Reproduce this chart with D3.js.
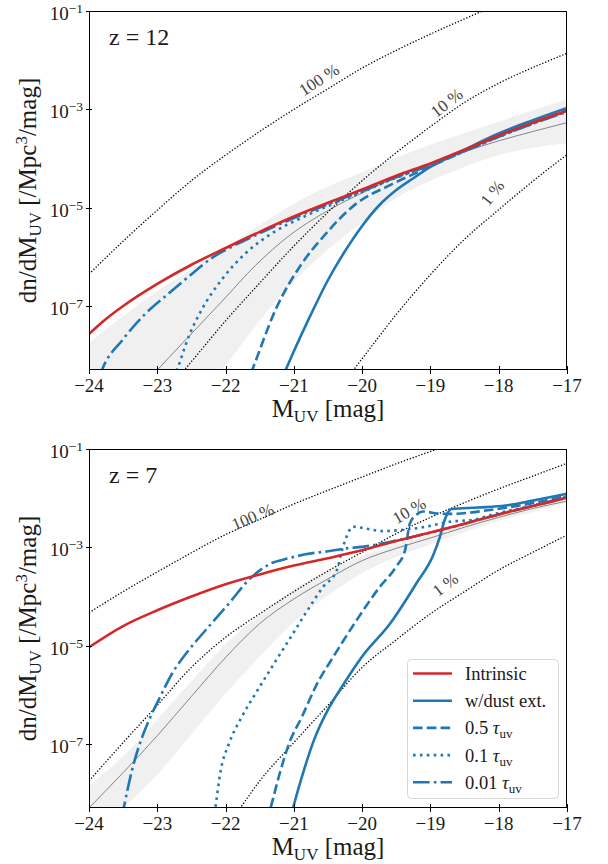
<!DOCTYPE html>
<html>
<head>
<meta charset="utf-8">
<script src="https://cdn.jsdelivr.net/npm/d3@7"></script>
<style>
  body { margin: 0; background: #fff; }
  svg { display: block; }
  text { font-family: "Liberation Serif", "Times New Roman", serif; fill: #1a1a1a; }
</style>
</head>
<body>
<svg id="chart" width="608" height="864"></svg>
<script>
// ---------------------------------------------------------------
// UV luminosity functions, values given as log10(dn/dM_UV) per mag
// ---------------------------------------------------------------
const X_TICKS = [-24, -23, -22, -21, -20, -19, -18, -17];
const Y_TICK_EXPONENTS = [-1, -3, -5, -7];
const Y_DOMAIN_LOG = [-8.3, -1];

// shared magnitude grid for the shaded observational range
const BAND_M = [-24, -23.5, -23, -22.5, -22, -21.5, -21, -20.5, -20, -19.5, -19, -18.5, -18, -17.5, -17];

// ---------- z = 12 ----------
const z12Intrinsic = [[-24,-7.57],[-23.8,-7.32],[-23.5,-7.0],[-23,-6.55],[-22.5,-6.16],[-22,-5.82],[-21.5,-5.49],[-21,-5.18],[-20.5,-4.90],[-20,-4.63],[-19.5,-4.35],[-19,-4.10],[-18.5,-3.82],[-18,-3.53],[-17.5,-3.27],[-17,-3.03]];
const z12Dust = [[-21.2,-8.55],[-21.12,-8.30],[-21,-7.92],[-20.75,-7.17],[-20.5,-6.47],[-20.25,-5.88],[-20,-5.37],[-19.75,-4.95],[-19.5,-4.64],[-19.25,-4.40],[-19,-4.17],[-18.5,-3.82],[-18,-3.49],[-17.5,-3.22],[-17,-2.97]];
const z12Tau05 = [[-21.7,-8.62],[-21.61,-8.30],[-21.27,-7.08],[-20.88,-6.13],[-20.57,-5.59],[-20.08,-4.91],[-19.59,-4.54],[-19.11,-4.23],[-18.52,-3.86],[-18,-3.54],[-17.5,-3.28],[-17,-3.02]];
const z12Tau01 = [[-22.75,-8.45],[-22.71,-8.30],[-22.54,-7.62],[-22.34,-7.05],[-22.05,-6.45],[-21.71,-5.93],[-21.32,-5.52],[-20.88,-5.20],[-20.49,-4.96],[-20,-4.68],[-19.5,-4.39],[-19,-4.13],[-18.5,-3.85],[-18,-3.56],[-17.5,-3.29],[-17,-3.04]];
const z12Tau001 = [[-23.85,-8.45],[-23.81,-8.30],[-23.51,-7.69],[-23.17,-7.15],[-22.83,-6.74],[-22.54,-6.40],[-22.2,-6.02],[-22,-5.86],[-21.5,-5.52],[-21,-5.21],[-20.5,-4.93],[-20,-4.66],[-19.5,-4.38],[-19,-4.13],[-18.5,-3.85],[-18,-3.56],[-17.5,-3.29],[-17,-3.05]];
const z12Observed = [[-23.3,-8.75],[-23,-8.30],[-22.54,-7.62],[-22.05,-6.90],[-21.56,-6.17],[-21.07,-5.57],[-20.49,-5.05],[-20,-4.70],[-19.5,-4.38],[-19,-4.10],[-18.5,-3.86],[-18,-3.64],[-17.5,-3.45],[-17,-3.27]];
const z12BandUpper = [-7.75,-7.2,-6.7,-6.25,-5.82,-5.35,-4.92,-4.57,-4.28,-3.98,-3.72,-3.48,-3.25,-3.02,-2.80];
const z12BandLower = [-10.6,-10.1,-9.6,-9.0,-8.2,-7.3,-6.5,-5.85,-5.3,-4.80,-4.45,-4.17,-3.93,-3.78,-3.69];
const z12Eff100 = [[-24,-6.35],[-23.5,-5.68],[-23,-5.05],[-22.5,-4.45],[-22,-3.93],[-21.5,-3.45],[-21,-3.0],[-20.5,-2.58],[-20,-2.16],[-19.5,-1.80],[-19,-1.47],[-18.5,-1.16],[-18,-0.86]];
const z12Eff10 = [[-23,-8.95],[-22.5,-8.13],[-22,-7.30],[-21.5,-6.53],[-21,-5.78],[-20.5,-5.09],[-20,-4.45],[-19.5,-3.88],[-19,-3.35],[-18.5,-2.86],[-18,-2.47],[-17.5,-2.15],[-17,-1.86]];
const z12Eff1 = [[-20.5,-8.97],[-20,-8.07],[-19.5,-7.17],[-19,-6.36],[-18.5,-5.64],[-18,-5.04],[-17.5,-4.46],[-17,-3.92]];

// ---------- z = 7 ----------
const z7Intrinsic = [[-24,-5.03],[-23.5,-4.60],[-23,-4.28],[-22.5,-4.0],[-22,-3.75],[-21.5,-3.55],[-21,-3.37],[-20.5,-3.22],[-20,-3.06],[-19.5,-2.87],[-19,-2.70],[-18.5,-2.52],[-18,-2.33],[-17.5,-2.16],[-17,-1.99]];
const z7Dust = [[-21.05,-8.5],[-21.01,-8.29],[-20.9,-7.75],[-20.7,-6.9],[-20.5,-6.3],[-20.28,-5.8],[-20,-5.22],[-19.59,-4.55],[-19.2,-3.72],[-18.96,-3.16],[-18.86,-2.78],[-18.79,-2.44],[-18.69,-2.22],[-18.3,-2.19],[-17.9,-2.15],[-17.5,-2.05],[-17,-1.91]];
const z7Tau05 = [[-21.4,-8.55],[-21.34,-8.29],[-21.22,-7.66],[-21.07,-6.99],[-20.88,-6.44],[-20.67,-5.80],[-20.42,-5.22],[-20.08,-4.48],[-19.74,-3.80],[-19.5,-3.39],[-19.37,-3.05],[-19.3,-2.51],[-19.2,-2.33],[-19.11,-2.27],[-18.9,-2.31],[-18.7,-2.32],[-18.13,-2.24],[-17.5,-2.10],[-17,-1.95]];
const z7Tau01 = [[-22.18,-8.55],[-22.15,-8.29],[-22.07,-7.53],[-21.95,-6.99],[-21.76,-6.44],[-21.56,-5.97],[-21.32,-5.43],[-21.07,-4.88],[-20.8,-4.28],[-20.57,-3.80],[-20.37,-3.46],[-20.28,-2.99],[-20.13,-2.58],[-19.94,-2.62],[-19.69,-2.67],[-19.45,-2.65],[-19.2,-2.61],[-18.96,-2.55],[-18.72,-2.48],[-18.37,-2.44],[-18.03,-2.31],[-17.5,-2.15],[-17,-1.97]];
const z7Tau001 = [[-23.52,-8.5],[-23.49,-8.29],[-23.37,-7.53],[-23.27,-7.05],[-23.12,-6.51],[-22.98,-6.10],[-22.78,-5.56],[-22.54,-5.09],[-22.29,-4.68],[-21.95,-4.14],[-21.66,-3.66],[-21.34,-3.33],[-21.07,-3.22],[-20.83,-3.14],[-20.5,-3.08],[-20.23,-3.02],[-20,-2.99],[-19.5,-2.86],[-19,-2.70],[-18.5,-2.52],[-18,-2.33],[-17.5,-2.16],[-17,-1.99]];
const z7Observed = [[-24,-8.30],[-23.5,-7.58],[-23,-6.83],[-22.5,-6.03],[-22,-5.24],[-21.5,-4.55],[-21,-4.05],[-20.5,-3.64],[-20,-3.27],[-19.5,-3.02],[-19,-2.81],[-18.5,-2.59],[-18,-2.39],[-17.5,-2.21],[-17,-2.06]];
const z7BandUpper = [-7.85,-7.25,-6.50,-5.72,-4.97,-4.37,-3.85,-3.48,-3.17,-2.94,-2.74,-2.53,-2.34,-2.18,-2.01];
const z7BandLower = [-8.9,-8.3,-7.62,-6.80,-5.97,-5.22,-4.52,-3.98,-3.52,-3.19,-2.94,-2.69,-2.46,-2.28,-2.10];
const z7Eff100 = [[-24,-4.33],[-23.5,-3.90],[-23,-3.50],[-22.5,-3.11],[-22,-2.74],[-21.5,-2.43],[-21,-2.12],[-20.5,-1.84],[-20,-1.57],[-19.5,-1.30],[-19,-1.05],[-18.5,-0.80]];
const z7Eff10 = [[-24,-7.75],[-23.5,-6.97],[-23,-6.21],[-22.5,-5.44],[-22,-4.83],[-21.5,-4.35],[-21,-3.90],[-20.5,-3.48],[-20,-3.10],[-19.5,-2.72],[-19,-2.39],[-18.5,-2.09],[-18,-1.81],[-17.5,-1.55],[-17,-1.29]];
const z7Eff1 = [[-21.9,-8.52],[-21.78,-8.29],[-21.5,-7.75],[-21,-6.97],[-20.5,-6.21],[-20,-5.44],[-19.5,-4.88],[-19,-4.35],[-18.5,-3.90],[-18,-3.46],[-17.5,-3.10],[-17,-2.75]];

// efficiency labels: [text, M, log10(phi) anchor, rotation]
const z12EffLabels = [["100 %", -20.63, -2.40, -33], ["10 %", -18.76, -2.87, -38], ["1 %", -18.09, -4.70, -52]];
const z7EffLabels  = [["100 %", -21.6, -2.38, -23], ["10 %", -19.31, -2.26, -30], ["1 %", -18.78, -3.76, -37]];

const LEGEND_ITEMS = [
  { key: "intrinsic", label: "Intrinsic" },
  { key: "dust", label: "w/dust ext." },
  { key: "tau05", label: "0.5", tau: true },
  { key: "tau01", label: "0.1", tau: true },
  { key: "tau001", label: "0.01", tau: true }
];

// ---------------------------------------------------------------
const RED = "#d62728", BLUE = "#1f77b4";
const LW = 2.6;
const STYLES = {
  intrinsic: { color: RED,  dash: null },
  dust:      { color: BLUE, dash: null },
  tau05:     { color: BLUE, dash: `${3.7*LW},${1.6*LW}` },
  tau01:     { color: BLUE, dash: `${1*LW},${1.65*LW}` },
  tau001:    { color: BLUE, dash: `${6.4*LW},${1.6*LW},${1*LW},${1.6*LW}` }
};

const svg = d3.select("#chart");
const LEFT = 89, RIGHT = 567;
const x = d3.scaleLinear().domain([-24, -17]).range([LEFT, RIGHT]);
const P = v => Math.pow(10, v);

const panels = [
  { id: "z12", label: "z = 12", top: 11, bottom: 370,
    band: [z12BandUpper, z12BandLower], observed: z12Observed,
    eff: [z12Eff100, z12Eff10, z12Eff1], effLabels: z12EffLabels,
    series: { dust: z12Dust, tau05: z12Tau05, tau01: z12Tau01, tau001: z12Tau001, intrinsic: z12Intrinsic },
    legend: false },
  { id: "z7", label: "z = 7", top: 449, bottom: 808,
    band: [z7BandUpper, z7BandLower], observed: z7Observed,
    eff: [z7Eff100, z7Eff10, z7Eff1], effLabels: z7EffLabels,
    series: { dust: z7Dust, tau05: z7Tau05, tau01: z7Tau01, tau001: z7Tau001, intrinsic: z7Intrinsic },
    legend: true }
];

const defs = svg.append("defs");

panels.forEach(p => {
  const y = d3.scaleLog().domain(Y_DOMAIN_LOG.map(P)).range([p.bottom, p.top]);
  const g = svg.append("g");

  defs.append("clipPath").attr("id", "clip-" + p.id)
    .append("rect").attr("x", LEFT).attr("y", p.top)
    .attr("width", RIGHT - LEFT).attr("height", p.bottom - p.top);

  const plot = g.append("g").attr("clip-path", `url(#clip-${p.id})`);

  const line = d3.line().x(d => x(d[0])).y(d => y(P(d[1]))).curve(d3.curveMonotoneX);

  // shaded observational range
  const bandData = d3.zip(BAND_M, p.band[0], p.band[1]);
  plot.append("path").datum(bandData)
    .attr("d", d3.area().x(d => x(d[0])).y0(d => y(P(d[2]))).y1(d => y(P(d[1]))).curve(d3.curveMonotoneX))
    .attr("fill", "#f0f0f0");

  // best-fit observed luminosity function
  plot.append("path").datum(p.observed).attr("d", line)
    .attr("fill", "none").attr("stroke", "#858585").attr("stroke-width", 1);

  // constant star-formation efficiency curves
  p.eff.forEach(arr => {
    plot.append("path").datum(arr).attr("d", line)
      .attr("fill", "none").attr("stroke", "#000").attr("stroke-width", 1.3)
      .attr("stroke-dasharray", "1.3,1.8");
  });

  // model curves (intrinsic drawn last)
  ["dust", "tau05", "tau01", "tau001", "intrinsic"].forEach(k => {
    const s = STYLES[k];
    const path = plot.append("path").datum(p.series[k]).attr("d", line)
      .attr("fill", "none").attr("stroke", s.color).attr("stroke-width", LW)
      .attr("stroke-linejoin", "round");
    if (s.dash) path.attr("stroke-dasharray", s.dash);
  });

  // efficiency labels
  p.effLabels.forEach(([txt, m, lv, rot]) => {
    g.append("text")
      .attr("transform", `translate(${x(m)},${y(P(lv))}) rotate(${rot})`)
      .attr("text-anchor", "middle").attr("dominant-baseline", "central")
      .style("font-size", "17px").style("fill", "#444")
      .text(txt);
  });

  // frame
  g.append("rect").attr("x", LEFT + 0.5).attr("y", p.top + 0.5)
    .attr("width", RIGHT - LEFT - 1).attr("height", p.bottom - p.top - 1)
    .attr("fill", "none").attr("stroke", "#000").attr("stroke-width", 1);

  // x axis ticks and labels
  X_TICKS.forEach(t => {
    const xx = Math.round(x(t)) + 0.5;
    g.append("line").attr("x1", xx).attr("x2", xx)
      .attr("y1", p.bottom - 4).attr("y2", p.bottom + 4)
      .attr("stroke", "#000").attr("stroke-width", 1);
    g.append("text").attr("x", x(t)).attr("y", p.bottom + 22)
      .attr("text-anchor", "middle").style("font-size", "19px")
      .text("\u2212" + Math.abs(t));
  });

  // y axis ticks and labels
  Y_TICK_EXPONENTS.forEach(e => {
    const yy = Math.round(y(P(e))) + 0.5;
    g.append("line").attr("x1", LEFT - 3).attr("x2", LEFT + 3)
      .attr("y1", yy).attr("y2", yy)
      .attr("stroke", "#000").attr("stroke-width", 1);
    const t = g.append("text").attr("x", LEFT - 6).attr("y", yy + 8.5)
      .attr("text-anchor", "end").style("font-size", "19px");
    t.append("tspan").text("10");
    t.append("tspan").attr("dy", -7.5).style("font-size", "13.5px").text("\u2212" + Math.abs(e));
  });

  // axis titles
  const xl = g.append("text").attr("x", (LEFT + RIGHT) / 2).attr("y", p.bottom + 47)
    .attr("text-anchor", "middle").style("font-size", "25px");
  xl.append("tspan").text("M");
  xl.append("tspan").attr("dy", 5).style("font-size", "17px").text("UV");
  xl.append("tspan").attr("dy", -5).text(" [mag]");

  const yl = g.append("text")
    .attr("transform", `translate(36,${(p.top + p.bottom) / 2}) rotate(-90)`)
    .attr("text-anchor", "middle").style("font-size", "25px");
  yl.append("tspan").text("dn/dM");
  yl.append("tspan").attr("dy", 5).style("font-size", "17px").text("UV");
  yl.append("tspan").attr("dy", -5).text(" [/Mpc");
  yl.append("tspan").attr("dy", -9).style("font-size", "17px").text("3");
  yl.append("tspan").attr("dy", 9).text("/mag]");

  // redshift tag
  g.append("text").attr("x", 109).attr("y", p.top + 34)
    .style("font-size", "24px").text(p.label);

  // legend
  if (p.legend) {
    const lg = g.append("g");
    const bx = 407, by = 659, bw = 151, bh = 139;
    lg.append("rect").attr("x", bx + 0.5).attr("y", by + 0.5).attr("width", bw).attr("height", bh)
      .attr("rx", 4).attr("fill", "rgba(255,255,255,0.85)").attr("stroke", "#d6d6d6").attr("stroke-width", 1);
    LEGEND_ITEMS.forEach((it, i) => {
      const ly = by + 14.5 + i * 27.2;
      const s = STYLES[it.key];
      const ln = lg.append("line").attr("x1", 413).attr("x2", 452).attr("y1", ly).attr("y2", ly)
        .attr("stroke", s.color).attr("stroke-width", LW);
      if (s.dash) ln.attr("stroke-dasharray", s.dash);
      const t = lg.append("text").attr("x", 465).attr("y", ly + 6.5).style("font-size", "18.5px");
      t.append("tspan").text(it.label);
      if (it.tau) {
        t.append("tspan").text(" ");
        t.append("tspan").style("font-style", "italic").text("\u03c4");
        t.append("tspan").attr("dy", 4).style("font-size", "13px").text("uv");
      }
    });
  }
});
</script>
</body>
</html>
